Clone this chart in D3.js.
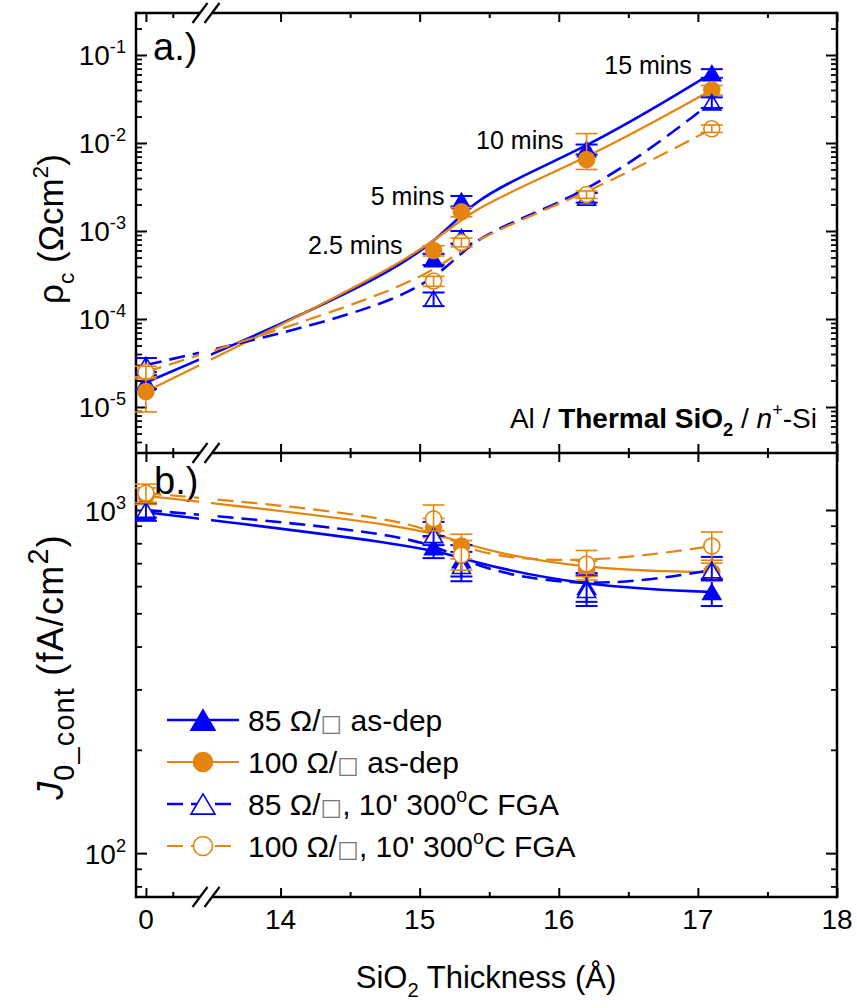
<!DOCTYPE html>
<html>
<head>
<meta charset="utf-8">
<script src="https://cdn.jsdelivr.net/npm/d3@7"></script>
<style>
  body { margin: 0; background: #fff; }
  text { font-family: "Liberation Sans", Arial, sans-serif; fill: #000; }
</style>
</head>
<body>
<svg id="chart" width="857" height="1008"></svg>
<script>
// ---- data ----
var thickness = [0, 15.1, 15.3, 16.2, 17.1];

// panel a: contact resistivity (Ohm cm2), error bars as [low, high]
var rho85dep = [1.9e-5, 4.8e-4, 2.2e-3, 8.5e-3, 0.062];
var rho85depErr = [[1.6e-5, 2.3e-5], [4.1e-4, 5.5e-4], [1.9e-3, 2.5e-3], [7.4e-3, 9.6e-3], [0.055, 0.069]];
var rho100dep = [1.5e-5, 6.0e-4, 1.65e-3, 6.5e-3, 0.040];
var rho100depErr = [[0.88e-5, 2.2e-5], [5.2e-4, 6.8e-4], [1.45e-3, 1.85e-3], [5.0e-3, 0.0128], [0.035, 0.045]];
var rho85fga = [3.0e-5, 1.7e-4, 8.5e-4, 2.4e-3, 0.029];
var rho85fgaErr = [[2.5e-5, 3.6e-5], [1.4e-4, 2.0e-4], [7.2e-4, 1.0e-3], [2.1e-3, 2.7e-3], [0.025, 0.033]];
var rho100fga = [2.5e-5, 2.7e-4, 7.4e-4, 2.6e-3, 0.0145];
var rho100fgaErr = [[2.1e-5, 2.9e-5], [2.35e-4, 3.05e-4], [6.6e-4, 8.3e-4], [2.35e-3, 2.85e-3], [0.0132, 0.016]];

// panel b: J0 contact (fA/cm2)
var j85dep = [985, 780, 714, 597, 577];
var j85depErr = [[930, 1040], [724, 840], [640, 790], [540, 655], [525, 630]];
var j100dep = [1100, 887, 785, 668, 659];
var j100depErr = [[1040, 1160], [830, 945], [720, 850], [625, 710], [620, 700]];
var j85fga = [1000, 845, 687, 585, 668];
var j85fgaErr = [[950, 1050], [790, 923], [620, 755], [525, 645], [625, 730]];
var j100fga = [1120, 942, 739, 696, 785];
var j100fgaErr = [[1050, 1190], [870, 1034], [668, 815], [640, 762], [714, 863]];

var timeLabels = ["2.5 mins", "5 mins", "10 mins", "15 mins"];

// ticks
var xMajorLeft = [0], xMinorLeft = [0.5];
var xMajorRight = [14, 15, 16, 17, 18], xMinorRight = [14.5, 15.5, 16.5, 17.5];
var rhoMajor = [1e-5, 1e-4, 1e-3, 1e-2, 1e-1];
var rhoExp = ["-5", "-4", "-3", "-2", "-1"];
var jMajor = [100, 1000];
var jExp = ["2", "3"];

// ---- layout ----
var svg = d3.select("#chart");
var leftX = 136, rightX = 837, topY = 13, midY = 453, bottomY = 897;
var blue = "#0000FF", orange = "#E3850E";

var xL = d3.scaleLinear().domain([-0.185, 1.1]).range([leftX, 205]);
var xR = d3.scaleLinear().domain([13.5, 18]).range([211, rightX]);
function xPos(v) { return v < 5 ? xL(v) : xR(v); }
var ya = d3.scaleLog().domain([3e-6, 0.3]).range([midY, topY]);
var yb = d3.scaleLog().domain([74.5, 1466]).range([bottomY, midY]);

function minorsFor(scale) {
  var dom = scale.domain(), out = [];
  for (var e = Math.floor(Math.log10(dom[0])); e <= Math.ceil(Math.log10(dom[1])); e++) {
    for (var k = 2; k <= 9; k++) {
      var v = k * Math.pow(10, e);
      if (v > dom[0] && v < dom[1]) out.push(v);
    }
  }
  return out;
}

// text with sub/superscripts: parts = [text, "sup"|"sub"|null, styles]
function rich(sel, parts, size, ratio) {
  ratio = ratio || 0.65;
  var shift = 0;
  parts.forEach(function(p) {
    var ts = sel.append("tspan").text(p[0]);
    var target = p[1] === "sup" ? -0.42 * size : p[1] === "sub" ? 0.3 * size : 0;
    ts.attr("dy", target - shift);
    shift = target;
    if (p[1]) ts.style("font-size", (size * ratio) + "px");
    if (p[2]) { for (var k in p[2]) ts.style(k, p[2][k]); }
  });
  return sel;
}

function cleanAxis(g, w) {
  g.select(".domain").remove();
  g.selectAll(".tick line").attr("stroke", "#000").attr("stroke-width", w);
}

// y axes, both sides
function yAxes(scale, majors) {
  var minors = minorsFor(scale);
  svg.append("g").attr("transform", "translate(" + leftX + ",0)")
    .call(d3.axisLeft(scale).tickValues(majors).tickSize(-11).tickFormat("")).call(cleanAxis, 2);
  svg.append("g").attr("transform", "translate(" + leftX + ",0)")
    .call(d3.axisLeft(scale).tickValues(minors).tickSize(-6).tickFormat("")).call(cleanAxis, 1.8);
  svg.append("g").attr("transform", "translate(" + rightX + ",0)")
    .call(d3.axisRight(scale).tickValues(majors).tickSize(-11).tickFormat("")).call(cleanAxis, 2);
  svg.append("g").attr("transform", "translate(" + rightX + ",0)")
    .call(d3.axisRight(scale).tickValues(minors).tickSize(-6).tickFormat("")).call(cleanAxis, 1.8);
}
yAxes(ya, rhoMajor);
yAxes(yb, jMajor);

// x ticks on top, middle (both ways) and bottom
function xTicks(y, axisFn) {
  [[xL, xMajorLeft, xMinorLeft], [xR, xMajorRight, xMinorRight]].forEach(function(s) {
    svg.append("g").attr("transform", "translate(0," + y + ")")
      .call(axisFn(s[0]).tickValues(s[1]).tickSize(-9).tickFormat("")).call(cleanAxis, 2);
    svg.append("g").attr("transform", "translate(0," + y + ")")
      .call(axisFn(s[0]).tickValues(s[2]).tickSize(-5).tickFormat("")).call(cleanAxis, 2);
  });
}
xTicks(topY, d3.axisTop);
xTicks(midY, d3.axisBottom);
xTicks(midY, d3.axisTop);
xTicks(bottomY, d3.axisBottom);

// frame with axis break
var breakA = 200, breakB = 212;
var frame = svg.append("g").attr("stroke", "#000").attr("stroke-width", 2.5).attr("fill", "none");
frame.append("line").attr("x1", leftX).attr("x2", leftX).attr("y1", topY - 1.2).attr("y2", bottomY + 1.2);
frame.append("line").attr("x1", rightX).attr("x2", rightX).attr("y1", topY - 1.2).attr("y2", bottomY + 1.2);
[topY, midY, bottomY].forEach(function(y) {
  frame.append("line").attr("x1", leftX).attr("x2", breakA).attr("y1", y).attr("y2", y);
  frame.append("line").attr("x1", breakB).attr("x2", rightX).attr("y1", y).attr("y2", y);
  [breakA, breakB].forEach(function(cx) {
    frame.append("line").attr("x1", cx - 7.5).attr("y1", y + 10).attr("x2", cx + 7.5).attr("y2", y - 10)
      .attr("stroke-width", 2.2);
  });
});

// tick labels
var tickFont = 28;
rhoMajor.forEach(function(v, i) {
  rich(svg.append("text").attr("x", 126).attr("y", ya(v) + 10).attr("text-anchor", "end")
    .style("font-size", tickFont + "px"), [["10"], [rhoExp[i], "sup"]], tickFont);
});
jMajor.forEach(function(v, i) {
  rich(svg.append("text").attr("x", 126).attr("y", yb(v) + 11).attr("text-anchor", "end")
    .style("font-size", tickFont + "px"), [["10"], [jExp[i], "sup"]], tickFont);
});
xMajorLeft.concat(xMajorRight).forEach(function(v) {
  svg.append("text").attr("x", xPos(v)).attr("y", 929).attr("text-anchor", "middle")
    .style("font-size", tickFont + "px").text(v);
});

// axis titles
rich(svg.append("text").attr("x", 486).attr("y", 988).attr("text-anchor", "middle").style("font-size", "31px"),
  [["SiO"], ["2", "sub"], [" Thickness (Å)"]], 31);
rich(svg.append("text").attr("transform", "translate(63,229) rotate(-90)").attr("text-anchor", "middle")
  .style("font-size", "35px"), [["ρ"], ["c", "sub"], [" (Ωcm"], ["2", "sup"], [")"]], 35);
rich(svg.append("text").attr("transform", "translate(63,667) rotate(-90)").attr("text-anchor", "middle")
  .style("font-size", "36px").style("letter-spacing", "1.2px"),
  [["J", null, {"font-style": "italic"}], ["0_cont", "sub"], [" (fA/cm"], ["2", "sup"], [")"]], 36, 0.8);

svg.append("text").attr("x", 153).attr("y", 60).style("font-size", "38px").text("a.)");
svg.append("text").attr("x", 154).attr("y", 494).style("font-size", "38px").text("b.)");

rich(svg.append("text").attr("x", 817).attr("y", 428).attr("text-anchor", "end").style("font-size", "28px"),
  [["Al / "], ["Thermal SiO", null, {"font-weight": "bold"}], ["2", "sub", {"font-weight": "bold"}],
   [" / "], ["n", null, {"font-style": "italic"}], ["+", "sup"], ["-Si"]], 28);

// ---- series ----
var rhoSeries = [
  {v: rho85dep, e: rho85depErr, color: blue, dash: null, shape: "tri", fill: true},
  {v: rho100dep, e: rho100depErr, color: orange, dash: null, shape: "circ", fill: true},
  {v: rho85fga, e: rho85fgaErr, color: blue, dash: "16,8", shape: "tri", fill: false},
  {v: rho100fga, e: rho100fgaErr, color: orange, dash: "16,8", shape: "circ", fill: false}
];
var jSeries = [
  {v: j85dep, e: j85depErr, color: blue, dash: null, shape: "tri", fill: true},
  {v: j100dep, e: j100depErr, color: orange, dash: null, shape: "circ", fill: true},
  {v: j85fga, e: j85fgaErr, color: blue, dash: "16,8", shape: "tri", fill: false},
  {v: j100fga, e: j100fgaErr, color: orange, dash: "16,8", shape: "circ", fill: false}
];

var defs = svg.append("defs");
var clip = defs.append("clipPath").attr("id", "breakclip");
clip.append("rect").attr("x", leftX).attr("y", topY).attr("width", 199 - leftX).attr("height", bottomY - topY);
clip.append("rect").attr("x", 211).attr("y", topY).attr("width", rightX - 211).attr("height", bottomY - topY);

function markerSel(g, s, x, y, size) {
  if (s.shape === "tri") {
    var w = size, h = size * 0.84;
    return g.append("path").attr("transform", "translate(" + x + "," + y + ")")
      .attr("d", "M0," + (-h / 2) + "L" + (w / 2) + "," + (h / 2) + "L" + (-w / 2) + "," + (h / 2) + "Z");
  }
  return g.append("circle").attr("cx", x).attr("cy", y).attr("r", size / 2.2);
}

function drawPanel(series, yScale) {
  var lineGen = d3.line().x(function(d) { return xPos(d[0]); }).y(function(d) { return yScale(d[1]); })
    .curve(d3.curveBasis);
  var lg = svg.append("g").attr("clip-path", "url(#breakclip)");
  series.forEach(function(s) {
    lg.append("path").datum(d3.zip(thickness, s.v)).attr("d", lineGen)
      .attr("fill", "none").attr("stroke", s.color)
      .attr("stroke-width", s.color === blue ? 2.6 : 2.2)
      .attr("stroke-dasharray", s.dash);
  });
  series.forEach(function(s) {
    var g = svg.append("g");
    thickness.forEach(function(t, i) {
      markerSel(g, s, xPos(t), yScale(s.v[i]), s.shape === "tri" ? 18 : 17.6)
        .attr("fill", s.fill ? s.color : "#fff").attr("stroke", s.color).attr("stroke-width", 1.6);
    });
    var eg = svg.append("g").attr("stroke", s.color).attr("stroke-width", s.color === blue ? 2 : 1.6);
    thickness.forEach(function(t, i) {
      var x = xPos(t), lo = yScale(s.e[i][0]), hi = yScale(s.e[i][1]);
      eg.append("line").attr("x1", x).attr("x2", x).attr("y1", lo).attr("y2", hi);
      [lo, hi].forEach(function(y) {
        eg.append("line").attr("x1", x - 11).attr("x2", x + 11).attr("y1", y).attr("y2", y);
      });
    });
  });
}
drawPanel(rhoSeries, ya);
drawPanel(jSeries, yb);

// time annotations next to the 85 as-dep points
var timeOffsets = [[-31, -5], [-17, 4], [-23, 0], [-20, 1]];
timeLabels.forEach(function(lbl, i) {
  svg.append("text").attr("x", xPos(thickness[i + 1]) + timeOffsets[i][0])
    .attr("y", ya(rho85dep[i + 1]) + timeOffsets[i][1])
    .attr("text-anchor", "end").style("font-size", "25px").text(lbl);
});

// ---- legend ----
var box = {"font-family": "DejaVu Sans", "fill": "#777", "font-size": "23px"};
var legendLabels = [
  [["85 Ω/"], ["□", null, box], [" as-dep"]],
  [["100 Ω/"], ["□", null, box], [" as-dep"]],
  [["85 Ω/"], ["□", null, box], [", 10' 300"], ["o", "sup"], ["C FGA"]],
  [["100 Ω/"], ["□", null, box], [", 10' 300"], ["o", "sup"], ["C FGA"]]
];
var legend = svg.append("g");
rhoSeries.forEach(function(s, i) {
  var y = 720 + i * 42;
  legend.append("line").attr("x1", 167).attr("x2", 239).attr("y1", y).attr("y2", y)
    .attr("stroke", s.color).attr("stroke-width", s.color === blue ? 2.6 : 2.2)
    .attr("stroke-dasharray", s.dash);
  markerSel(legend, s, 203, y, s.shape === "tri" ? 24 : 21)
    .attr("fill", s.fill ? s.color : "#fff").attr("stroke", s.color).attr("stroke-width", 1.6);
  rich(legend.append("text").attr("x", 248).attr("y", y + 11).style("font-size", "30px"), legendLabels[i], 30);
});
</script>
</body>
</html>
